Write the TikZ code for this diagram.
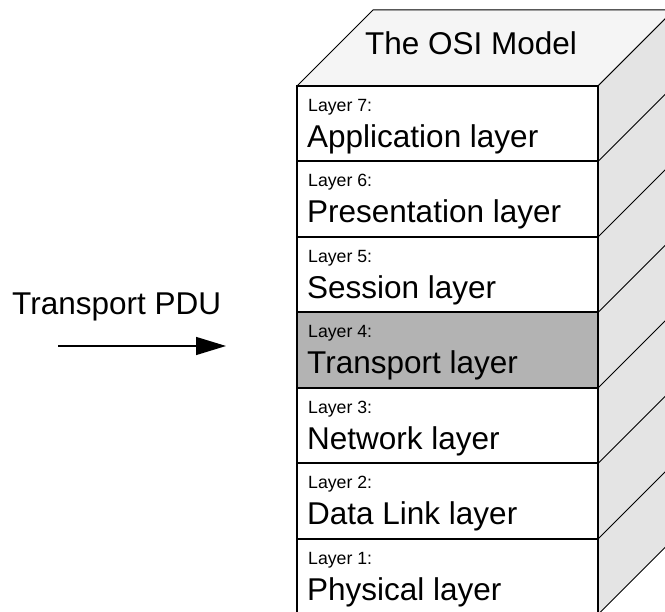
\documentclass[tikz,border=0pt]{standalone}
\usepackage{fontspec}
\setmainfont{Liberation Sans}
\usepackage{xcolor}
\usetikzlibrary{arrows.meta, positioning, backgrounds}
\definecolor{TopFace}{HTML}{F5F5F5}
\definecolor{SideFace}{HTML}{E4E4E4}
\definecolor{LayerHighlight}{HTML}{B3B3B3}

\begin{document}
\begin{tikzpicture}[x=1pt, y=1pt, node distance=0pt,
    layer/.style={rectangle, draw, line width=2pt, fill=white, minimum width=301pt, minimum height=75.5pt, inner sep=0pt, outer sep=0pt},
    layertag/.style={anchor=base west, inner sep=0pt, font=\fontsize{17.7}{20}\selectfont},
    layername/.style={anchor=base west, inner sep=0pt, font=\fontsize{31.5}{36}\selectfont},
    edge/.style={line width=1pt}]

        \useasboundingbox (0,0) rectangle (665,612);
        \clip (0,0) rectangle (665,612);

        % front of the stack
        \node[layer, anchor=north west] (l7) at (297,526) {};
        \node[layer, below=of l7] (l6) {};
        \node[layer, below=of l6] (l5) {};
        \node[layer, below=of l5, fill=LayerHighlight] (l4) {};
        \node[layer, below=of l4] (l3) {};
        \node[layer, below=of l3] (l2) {};
        \node[layer, below=of l2] (l1) {};

        \node[layertag] at ([shift={(11pt,-25.5pt)}]l7.north west) {Layer 7:};
        \node[layername] at ([shift={(10pt,-61.5pt)}]l7.north west) {Application layer};
        \node[layertag] at ([shift={(11pt,-25.5pt)}]l6.north west) {Layer 6:};
        \node[layername] at ([shift={(10pt,-61.5pt)}]l6.north west) {Presentation layer};
        \node[layertag] at ([shift={(11pt,-25.5pt)}]l5.north west) {Layer 5:};
        \node[layername] at ([shift={(10pt,-61.5pt)}]l5.north west) {Session layer};
        \node[layertag] at ([shift={(11pt,-25.5pt)}]l4.north west) {Layer 4:};
        \node[layername] at ([shift={(10pt,-61.5pt)}]l4.north west) {Transport layer};
        \node[layertag] at ([shift={(11pt,-25.5pt)}]l3.north west) {Layer 3:};
        \node[layername] at ([shift={(10pt,-61.5pt)}]l3.north west) {Network layer};
        \node[layertag] at ([shift={(11pt,-25.5pt)}]l2.north west) {Layer 2:};
        \node[layername] at ([shift={(10pt,-61.5pt)}]l2.north west) {Data Link layer};
        \node[layertag] at ([shift={(11pt,-25.5pt)}]l1.north west) {Layer 1:};
        \node[layername] at ([shift={(10pt,-61.5pt)}]l1.north west) {Physical layer};

        % top and side faces
        \begin{scope}[on background layer]
            \filldraw[fill=TopFace, edge] (l7.north west) -- ++(76,76) -- ++(301,0) -- (l7.north east) -- cycle;
            \filldraw[fill=SideFace, edge] (l7.north east) -- ++(76,76) -- ([shift={(76pt,76pt)}]l1.south east) -- (l1.south east) -- cycle;
        \end{scope}
        \foreach \k in {l6, l5, l4, l3, l2, l1}
            \draw[edge] (\k.north east) -- ++(76,76);

        \node[layername, anchor=base] (title) at (471,557) {The OSI Model};

        % incoming PDU
        \node[layername] (pdu) at (12,297) {Transport PDU};
        \coordinate (pdustart) at (58,266);
        \coordinate (pduend) at (226,266);
        \draw[line width=1.3pt, -{Triangle[length=30pt, width=18pt]}] (pdustart) -- (pduend);

    \end{tikzpicture}
\end{document}
